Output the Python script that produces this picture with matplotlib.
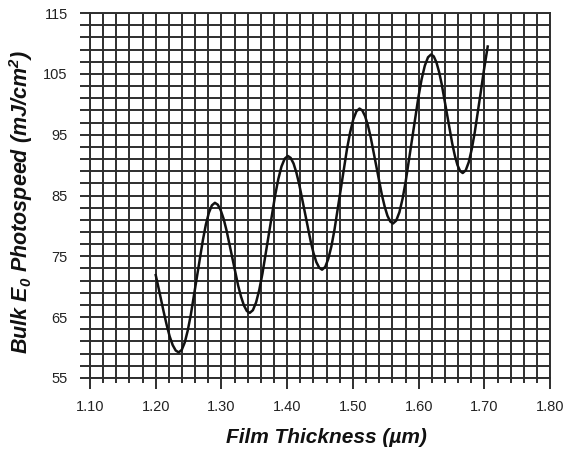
import numpy as np
import matplotlib
matplotlib.use("Agg")
import matplotlib.pyplot as plt
from matplotlib.ticker import MultipleLocator, FixedLocator, FormatStrFormatter

# ---- data ----
thickness = [1.2000, 1.2029, 1.2075, 1.2121, 1.2167, 1.2212, 1.2258, 1.2304,
             1.2350, 1.2396, 1.2442, 1.2487, 1.2533, 1.2625, 1.2717, 1.2762,
             1.2808, 1.2854,
             1.2900, 1.2944, 1.2988, 1.3033, 1.3077, 1.3165, 1.3253, 1.3298,
             1.3342, 1.3386,
             1.3430, 1.3478, 1.3527, 1.3575, 1.3623, 1.3720, 1.3817, 1.3865,
             1.3913, 1.3962,
             1.4010, 1.4053, 1.4097, 1.4140, 1.4183, 1.4270, 1.4357, 1.4400,
             1.4443, 1.4487,
             1.4530, 1.4578, 1.4625, 1.4673, 1.4720, 1.4815, 1.4910, 1.4958,
             1.5005, 1.5053,
             1.5100, 1.5143, 1.5185, 1.5228, 1.5270, 1.5355, 1.5440, 1.5483,
             1.5525, 1.5568,
             1.5610, 1.5658, 1.5707, 1.5755, 1.5803, 1.5900, 1.5997, 1.6045,
             1.6093, 1.6142,
             1.6190, 1.6230, 1.6270, 1.6310, 1.6350, 1.6430, 1.6510, 1.6550,
             1.6590, 1.6630,
             1.6670, 1.6716, 1.6762, 1.6807, 1.6853, 1.6945, 1.6991, 1.7050]
photospeed = [71.90, 70.50, 68.18, 65.86, 63.69, 61.83, 60.40, 59.51,
              59.20, 59.62, 60.85, 62.80, 65.35, 71.50, 77.65, 80.20,
              82.15, 83.38,
              83.80, 83.49, 82.59, 81.15, 79.27, 74.75, 70.22, 68.35,
              66.91, 66.01,
              65.70, 66.14, 67.43, 69.48, 72.15, 78.60, 85.05, 87.72,
              89.77, 91.06,
              91.50, 91.18, 90.25, 88.76, 86.82, 82.15, 77.47, 75.54,
              74.05, 73.12,
              72.80, 73.25, 74.58, 76.68, 79.43, 86.05, 92.68, 95.42,
              97.52, 98.85,
              99.30, 98.98, 98.03, 96.53, 94.57, 89.85, 85.12, 83.17,
              81.67, 80.72,
              80.40, 80.87, 82.26, 84.47, 87.35, 94.30, 101.25, 104.13,
              106.34, 107.73,
              108.20, 107.87, 106.89, 105.34, 103.32, 98.45, 93.57, 91.56,
              90.01, 89.03,
              88.70, 89.15, 90.49, 92.61, 95.38, 102.05, 105.51, 109.50]

y_ticks = [55, 65, 75, 85, 95, 105, 115]
y_minor = np.arange(55, 116, 2)

plt.rcParams['font.family'] = ['Liberation Sans', 'DejaVu Sans']
plt.rcParams['mathtext.fontset'] = 'custom'
plt.rcParams['mathtext.rm'] = 'Liberation Sans:bold:italic'
plt.rcParams['mathtext.it'] = 'Liberation Sans:bold:italic'

grid_col = '#2e2e2e'
lw = 1.4

fig = plt.figure(figsize=(5.66, 4.51), dpi=100)
ax = fig.add_axes([0.159, 0.162, 0.813, 0.809])

ax.plot(thickness, photospeed, color='#111111', linewidth=1.8,
        solid_joinstyle='round', zorder=3)

ax.set_xlim(1.10, 1.80)
ax.set_ylim(55, 115)
ax.xaxis.set_major_locator(MultipleLocator(0.10))
ax.xaxis.set_minor_locator(MultipleLocator(0.02))
ax.xaxis.set_major_formatter(FormatStrFormatter('%.2f'))
ax.set_yticks(y_ticks)
ax.yaxis.set_minor_locator(FixedLocator(y_minor))

ax.grid(which='both', color=grid_col, linewidth=lw)
ax.set_axisbelow(True)
for sp in ax.spines.values():
    sp.set_color(grid_col)
    sp.set_linewidth(lw)

ax.tick_params(axis='x', which='major', length=8, width=lw, color=grid_col,
               pad=8, labelsize=10.5, labelcolor='#222222')
ax.tick_params(axis='x', which='minor', length=3.5, width=lw, color=grid_col)
ax.tick_params(axis='y', which='both', length=7, width=lw, color=grid_col)
ax.tick_params(axis='y', which='major', pad=9, labelsize=10.5,
               labelcolor='#222222')

fig.text(0.577, 0.029, 'Film Thickness (µm)', fontsize=15,
         fontweight='bold', fontstyle='italic', ha='center', va='center',
         color='#111111')
fig.text(0.037, 0.552, 'Bulk E$_0$ Photospeed (mJ/cm$^2$)', fontsize=15.5,
         fontweight='bold', fontstyle='italic', rotation=90,
         ha='center', va='center', color='#111111')

fig.savefig('out.png', dpi=100)
